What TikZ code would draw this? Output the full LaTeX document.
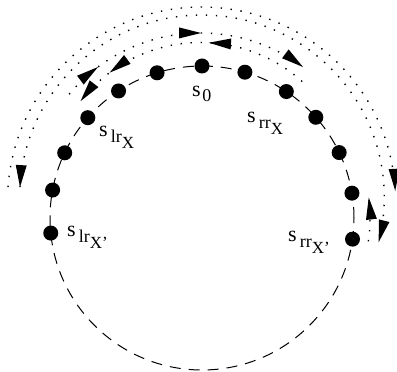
\documentclass[tikz,border=0pt]{standalone}
\usepackage{fontspec}
\setmainfont{Liberation Serif}
\newcommand{\tipmark}[4]{\fill[shift={(#1)},rotate=#3] (#2,0) -- ({#2-5.5},#4) -- ({#2+5.5},#4) -- cycle;}
\newcommand{\slab}[2]{s\kern3pt\raisebox{-6pt}{\fontsize{18}{20}\selectfont #1\raisebox{-6pt}{\fontsize{17}{19}\selectfont X#2}}}
\begin{document}
\begin{tikzpicture}[x=1pt,y=1pt,
  dotnode/.style={circle,fill=black,inner sep=0pt,minimum size=15pt},
  ring/.style={line width=1pt,dash pattern=on 11pt off 8pt},
  trail/.style={line width=1.4pt,dash pattern=on 1.4pt off 8.6pt},
  lab/.style={anchor=base west,inner sep=0pt,font=\fontsize{22}{24}\selectfont}]
\useasboundingbox (0,0) rectangle (397,372);
\coordinate (C) at (202,154);
\coordinate (P1) at (201.5,171);
\coordinate (P2) at (202,174.7);
\coordinate (P3) at (200.5,167.5);
\coordinate (P4) at (200.5,177.5);
% dashed ring
\draw[ring] (C) circle[radius=152];
% states
\foreach \n/\a in {d0/90,r1/73.6,r2/56.3,r3/41.5,r4/25.5,r5/9.4,r6/-8,
                   l1/107.2,l2/123.3,l3/138.7,l4/154.6,l5/169.4,l6/185.7}
  \node[dotnode] (\n) at ([shift={(\a:152)}]C) {};
% labels
\node[lab] (t0) at (192,275) {s\kern1.5pt\raisebox{-5pt}{\fontsize{18}{20}\selectfont 0}};
\node[lab] (tlx) at (99,235) {\slab{lr}{}};
\node[lab] (trx) at (247,249) {\slab{rr}{}};
\node[lab] (tlx2) at (67,135) {\slab{lr}{’}};
\node[lab] (trx2) at (288,130) {\slab{rr}{’}};
% dotted trails
\draw[trail] ([shift={(175.9:194)}]P1) arc[start angle=175.9,end angle=3,radius=194];
\tipmark{P1}{194}{3}{22}
\draw[trail] ([shift={(176.8:182.3)}]P2) arc[start angle=176.8,end angle=-14.2,radius=182.3];
\tipmark{P2}{182.3}{176.8}{-22}
\tipmark{P2}{182.3}{-14.2}{22}
\draw[trail] ([shift={(140:171.5)}]P3) arc[start angle=140,end angle=53.3,radius=171.5];
\tipmark{P3}{171.5}{126.7}{22}
\tipmark{P3}{171.5}{89.8}{22}
\tipmark{P3}{171.5}{53.3}{22}
\draw[trail] ([shift={(48:152)}]P4) arc[start angle=48,end angle=142.1,radius=152];
\tipmark{P4}{152}{86.8}{-22}
\tipmark{P4}{152}{126.7}{-22}
\tipmark{P4}{152}{142.1}{-22}
\draw[trail] ([shift={(-8:168)}]C) arc[start angle=-8,end angle=7,radius=168];
\tipmark{C}{168}{7}{-22}
\end{tikzpicture}
\end{document}
